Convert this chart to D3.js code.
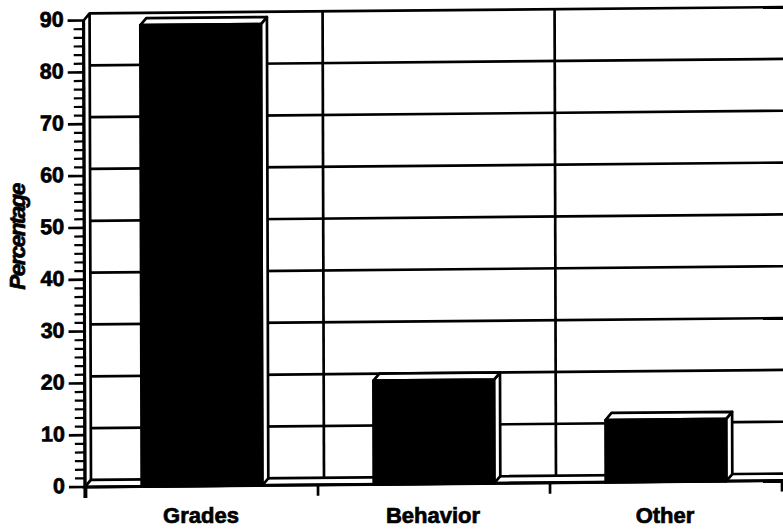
<!DOCTYPE html>
<html>
<head>
<meta charset="utf-8">
<script src="https://cdn.jsdelivr.net/npm/d3@7"></script>
<style>
  html, body { margin: 0; padding: 0; background: #fff; }
  svg { display: block; }
  text { font-family: "Liberation Sans", Arial, Helvetica, sans-serif; fill: #000; stroke: #000; stroke-width: 0.7px; }
</style>
</head>
<body>
<svg id="chart" width="783" height="531"></svg>
<script>
// Reasons given, in percent
const categories = ["Grades", "Behavior", "Other"];
const percentages = [89, 20, 12];
const yTickValues = [0, 10, 20, 30, 40, 50, 60, 70, 80, 90];
const yTitle = "Percentage";

const W = 783, H = 531;
const svg = d3.select("#chart");

// Front plane geometry and 3D depth offset
const axisX = 85, plotRight = 782, baseY = 487;
const depthX = 6, depthY = -7;
const rightEdge = 820;

const y = d3.scaleLinear().domain([0, 90]).range([baseY, 20.5]);
const x = d3.scaleBand().domain(categories).range([axisX + 1, plotRight])
  .paddingInner(0.48).paddingOuter(0.24);

// slight skew of the plot area
const skB = -0.0092, skC = 0.003;
const root = svg.append("g")
  .attr("transform", `matrix(1,${skB},${skC},1,${-skC * baseY},${-skB * axisX})`);

const stroke = "#000", sw = 2.7;

// Back wall: horizontal grid lines
const wall = root.append("g");
wall.selectAll("line.h").data(yTickValues.filter(v => v > 0)).join("line")
  .attr("class", "h")
  .attr("x1", axisX + depthX).attr("x2", rightEdge)
  .attr("y1", d => y(d) + depthY).attr("y2", d => y(d) + depthY)
  .attr("stroke", stroke).attr("stroke-width", sw);

// Back wall: vertical lines at category boundaries
const bounds = categories.map(c => x(c) - x.step() * x.paddingOuter()).slice(1);
wall.selectAll("line.v").data(bounds).join("line")
  .attr("class", "v")
  .attr("x1", d => d + depthX).attr("x2", d => d + depthX)
  .attr("y1", y(90) + depthY).attr("y2", y(0) + depthY)
  .attr("stroke", stroke).attr("stroke-width", sw);

// Left wall
root.append("path")
  .attr("d", `M${axisX},${y(90)} L${axisX + depthX},${y(90) + depthY} L${axisX + depthX},${y(0) + depthY} L${axisX},${y(0)} Z`)
  .attr("fill", "#fff").attr("stroke", stroke).attr("stroke-width", sw)
  .attr("stroke-linejoin", "round");

// Floor
root.append("path")
  .attr("d", `M${axisX},${y(0)} L${axisX + depthX},${y(0) + depthY} L${rightEdge},${y(0) + depthY} L${rightEdge},${y(0)} Z`)
  .attr("fill", "#fff").attr("stroke", stroke).attr("stroke-width", sw);

// X axis ticks at category boundaries
const xTicks = [axisX + 1].concat(bounds, [plotRight]);
root.selectAll("line.xt").data(xTicks).join("line")
  .attr("class", "xt")
  .attr("x1", d => d).attr("x2", d => d)
  .attr("y1", baseY).attr("y2", baseY + 11)
  .attr("stroke", stroke).attr("stroke-width", sw);

// Bars (side face, top face, front face)
const bars = root.selectAll("g.bar")
  .data(categories.map((c, i) => ({ c, v: percentages[i] })))
  .join("g").attr("class", "bar");

bars.append("path")
  .attr("d", d => {
    const x1 = x(d.c) + x.bandwidth(), yt = y(d.v);
    return `M${x1},${yt} L${x1 + depthX},${yt + depthY} L${x1 + depthX},${baseY + depthY} L${x1},${baseY} Z`;
  })
  .attr("fill", "#fff").attr("stroke", stroke).attr("stroke-width", sw)
  .attr("stroke-linejoin", "round");

bars.append("path")
  .attr("d", d => {
    const x0 = x(d.c), x1 = x(d.c) + x.bandwidth(), yt = y(d.v);
    return `M${x0},${yt} L${x0 + depthX},${yt + depthY} L${x1 + depthX},${yt + depthY} L${x1},${yt} Z`;
  })
  .attr("fill", "#fff").attr("stroke", stroke).attr("stroke-width", sw)
  .attr("stroke-linejoin", "round");

bars.append("rect")
  .attr("x", d => x(d.c))
  .attr("y", d => y(d.v))
  .attr("width", x.bandwidth())
  .attr("height", d => baseY - y(d.v))
  .attr("fill", "#000").attr("stroke", stroke).attr("stroke-width", sw)
  .attr("stroke-linejoin", "round");

// Front x axis line
root.append("line")
  .attr("x1", axisX).attr("x2", rightEdge)
  .attr("y1", baseY).attr("y2", baseY)
  .attr("stroke", stroke).attr("stroke-width", sw + 0.4);

// Y axis with major and minor ticks
const yAxisG = root.append("g");
yAxisG.append("line")
  .attr("x1", axisX).attr("x2", axisX)
  .attr("y1", y(90)).attr("y2", baseY + 11)
  .attr("stroke", stroke).attr("stroke-width", sw + 0.4);

const minorTicks = d3.range(0, 90, 10 / 6).filter(v => Math.abs(v - Math.round(v / 10) * 10) > 0.01);
yAxisG.selectAll("line.minor").data(minorTicks).join("line")
  .attr("class", "minor")
  .attr("x1", axisX - 10).attr("x2", axisX)
  .attr("y1", d => y(d)).attr("y2", d => y(d))
  .attr("stroke", stroke).attr("stroke-width", 2.2);

yAxisG.selectAll("line.major").data(yTickValues).join("line")
  .attr("class", "major")
  .attr("x1", axisX - 16).attr("x2", axisX)
  .attr("y1", d => y(d)).attr("y2", d => y(d))
  .attr("stroke", stroke).attr("stroke-width", sw);

yAxisG.selectAll("text").data(yTickValues).join("text")
  .attr("x", axisX - 20)
  .attr("y", d => y(d) + 6)
  .attr("text-anchor", "end")
  .attr("font-size", 21.5).attr("font-weight", "bold")
  .text(d => d);

// Category labels
svg.selectAll("text.cat").data(categories).join("text")
  .attr("class", "cat")
  .attr("x", d => x(d) + x.bandwidth() / 2 - 1)
  .attr("y", 523)
  .attr("text-anchor", "middle")
  .attr("font-size", 22).attr("font-weight", "bold")
  .text(d => d);

// Y axis title
svg.append("text")
  .attr("transform", "translate(25,237) rotate(-90)")
  .attr("text-anchor", "middle")
  .attr("font-size", 22.5).attr("font-weight", "bold").attr("font-style", "italic")
  .attr("letter-spacing", -1.6)
  .text(yTitle);
</script>
</body>
</html>
